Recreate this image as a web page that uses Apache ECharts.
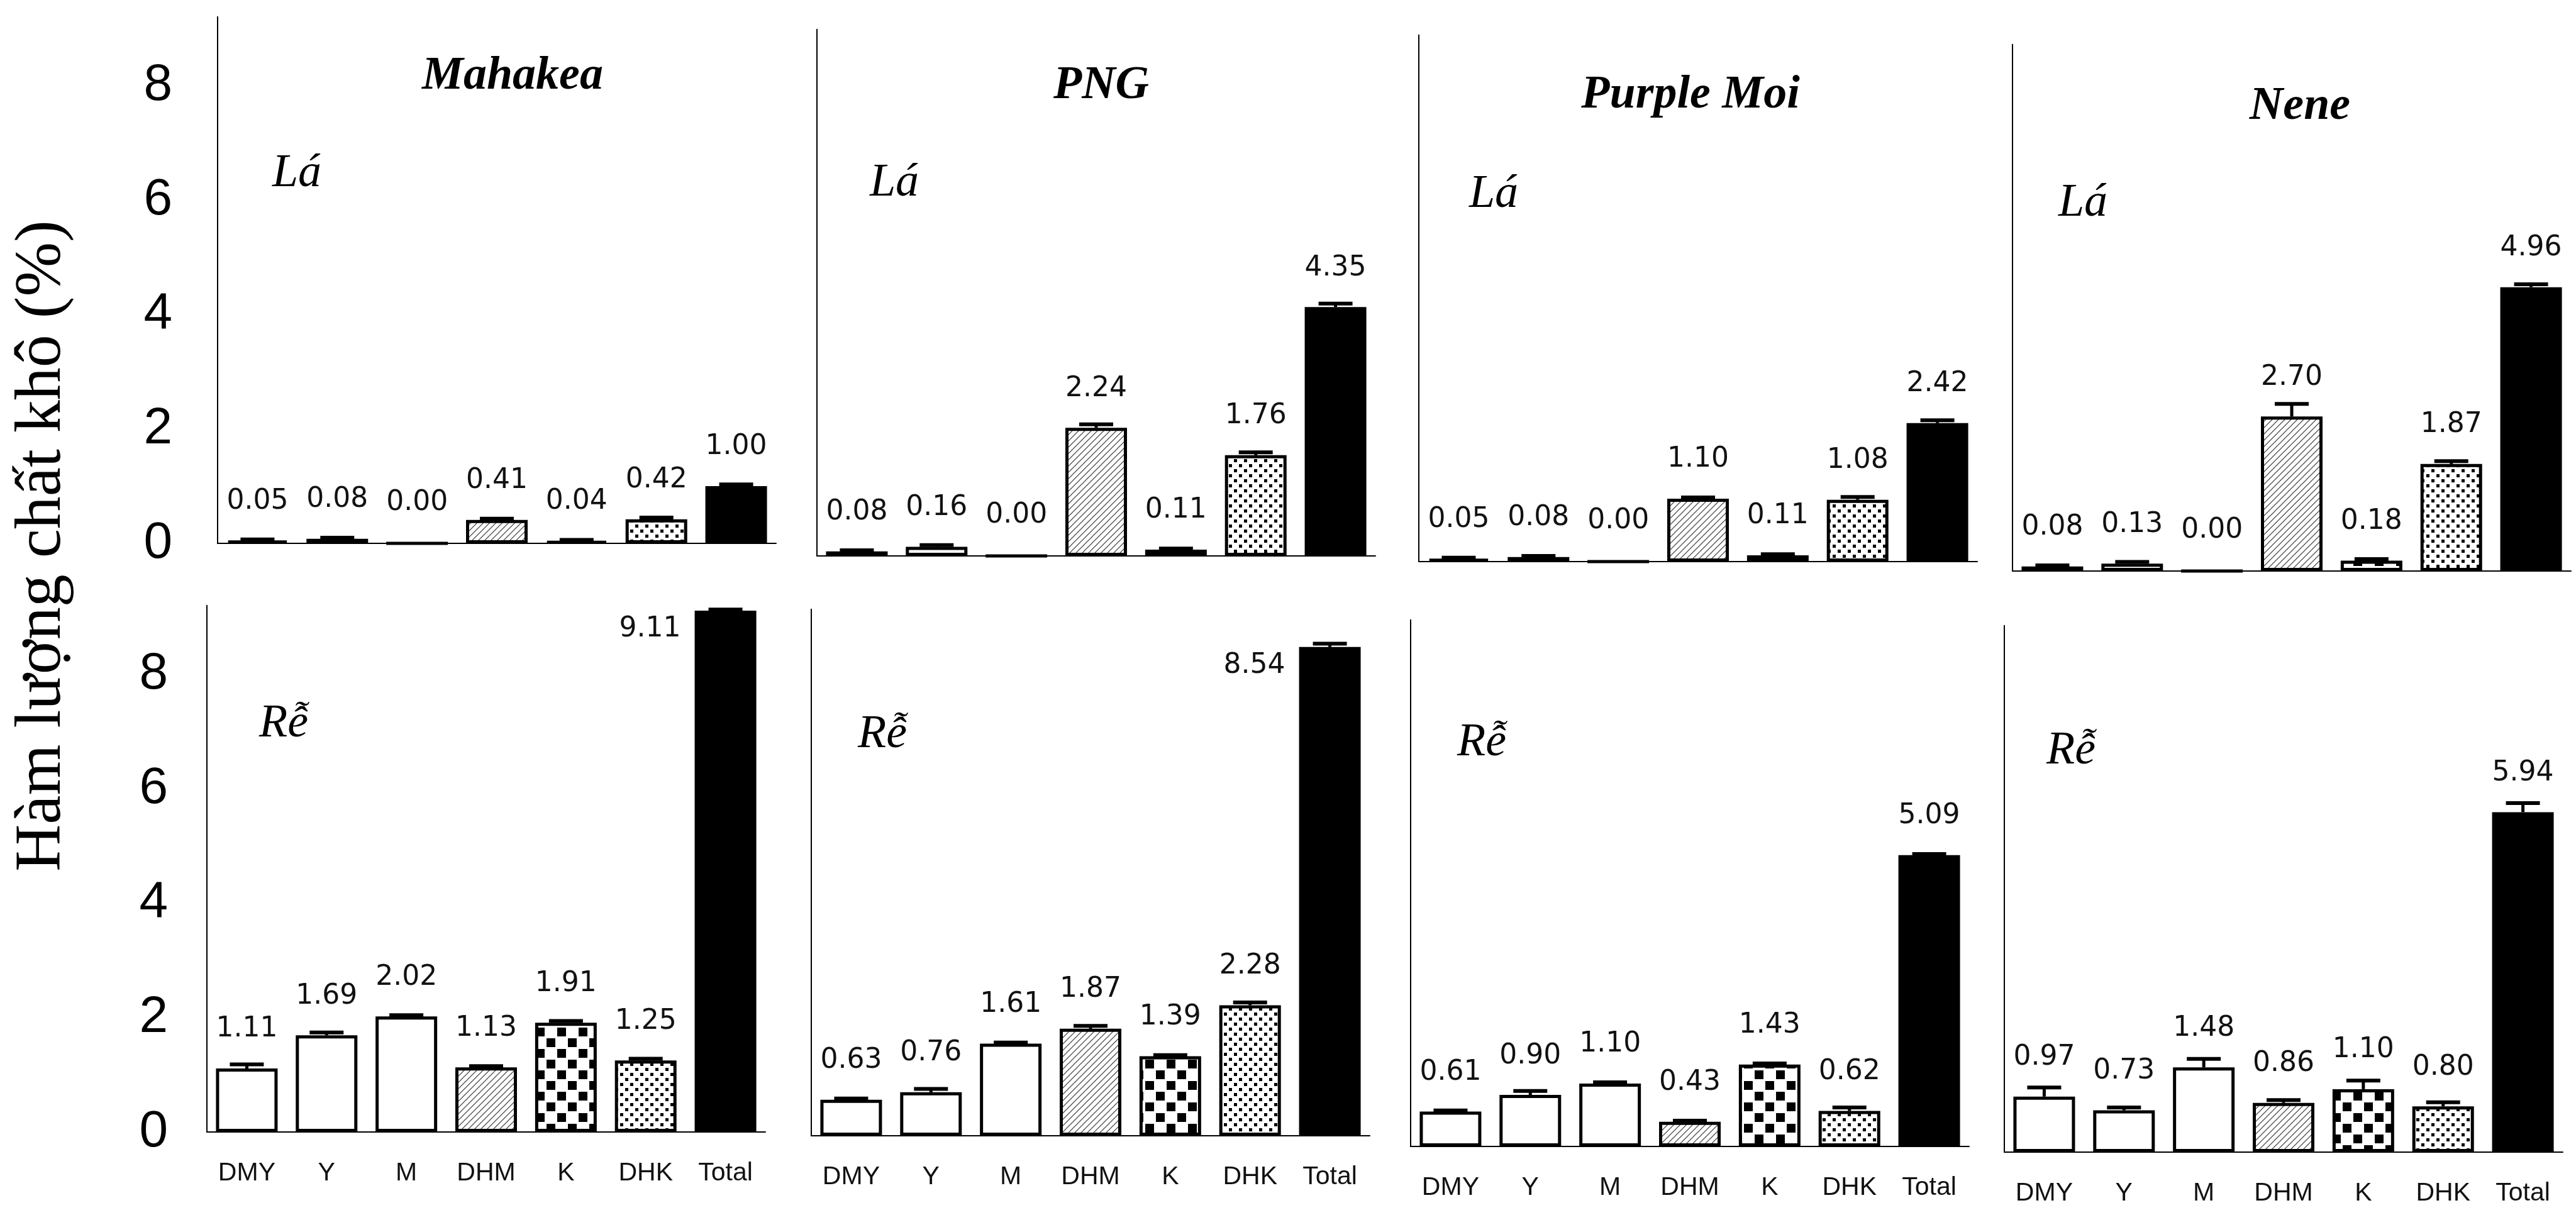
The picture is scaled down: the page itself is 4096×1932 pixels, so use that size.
<!DOCTYPE html>
<html>
<head>
<meta charset="utf-8">
<script src="https://cdn.jsdelivr.net/npm/echarts@6/dist/echarts.min.js"></script>
<style>
  html, body { margin: 0; padding: 0; background: #fff; }
  #chart { width: 4096px; height: 1932px; }
</style>
</head>
<body>
<div id="chart"></div>
<script>
// categories and cultivars
var categories = ["DMY", "Y", "M", "DHM", "K", "DHK", "Total"];
var cultivars = ["Mahakea", "PNG", "Purple Moi", "Nene"];
var yTicks = [0, 2, 4, 6, 8];

// Lá (leaf) values, % dry matter
var laMahakea = [0.05, 0.08, 0.00, 0.41, 0.04, 0.42, 1.00];
var laPNG = [0.08, 0.16, 0.00, 2.24, 0.11, 1.76, 4.35];
var laPurpleMoi = [0.05, 0.08, 0.00, 1.10, 0.11, 1.08, 2.42];
var laNene = [0.08, 0.13, 0.00, 2.70, 0.18, 1.87, 4.96];

// Rễ (root) values
var reMahakea = [1.11, 1.69, 2.02, 1.13, 1.91, 1.25, 9.11];
var rePNG = [0.63, 0.76, 1.61, 1.87, 1.39, 2.28, 8.54];
var rePurpleMoi = [0.61, 0.90, 1.10, 0.43, 1.43, 0.62, 5.09];
var reNene = [0.97, 0.73, 1.48, 0.86, 1.10, 0.80, 5.94];

// error bars
var errLaMahakea = [0.02, 0.02, 0, 0.02, 0.02, 0.03, 0.03];
var errLaPNG = [0.02, 0.03, 0, 0.06, 0.02, 0.05, 0.06];
var errLaPurpleMoi = [0.02, 0.02, 0, 0.02, 0.02, 0.05, 0.05];
var errLaNene = [0.02, 0.03, 0, 0.22, 0.03, 0.05, 0.05];
var errReMahakea = [0.07, 0.05, 0.02, 0.02, 0.03, 0.03, 0.02];
var errRePNG = [0.02, 0.06, 0.02, 0.05, 0.02, 0.05, 0.06];
var errRePurpleMoi = [0.02, 0.07, 0.02, 0.02, 0.02, 0.06, 0.02];
var errReNene = [0.16, 0.05, 0.15, 0.05, 0.15, 0.07, 0.16];

var laRows = [laMahakea, laPNG, laPurpleMoi, laNene];
var reRows = [reMahakea, rePNG, rePurpleMoi, reNene];
var laErrs = [errLaMahakea, errLaPNG, errLaPurpleMoi, errLaNene];
var reErrs = [errReMahakea, errRePNG, errRePurpleMoi, errReNene];

// layout (px)
var topAxisX = [346, 1299, 2256, 3200];
var topBase = [864, 884, 893, 908];
var botAxisX = [329, 1290, 2243, 3187];
var botBase = [1800, 1806, 1823, 1832];
var yMax = 9.2;
var unit = 91;
var gridW = 888;
var gridH = yMax * unit;

// fill patterns
function makeCanvas(w, h) {
  var c = document.createElement("canvas");
  c.width = w; c.height = h;
  var ctx = c.getContext("2d");
  ctx.fillStyle = "#fff";
  ctx.fillRect(0, 0, w, h);
  return c;
}
function hatch() {
  var c = makeCanvas(10, 10), ctx = c.getContext("2d");
  ctx.strokeStyle = "#333";
  ctx.lineWidth = 1.2;
  ctx.beginPath();
  ctx.moveTo(0, 10); ctx.lineTo(10, 0);
  ctx.moveTo(-2, 2); ctx.lineTo(2, -2);
  ctx.moveTo(8, 12); ctx.lineTo(12, 8);
  ctx.stroke();
  return c;
}
function checker() {
  var c = makeCanvas(34, 34), ctx = c.getContext("2d");
  ctx.fillStyle = "#000";
  ctx.fillRect(2, 2, 14, 14);
  ctx.fillRect(19, 19, 14, 14);
  return c;
}
function dots() {
  var c = makeCanvas(16, 16), ctx = c.getContext("2d");
  ctx.fillStyle = "#000";
  ctx.fillRect(2, 2, 5, 5);
  ctx.fillRect(10, 10, 5, 5);
  return c;
}
var hatchFill = { image: hatch(), repeat: "repeat" };
var checkerFill = { image: checker(), repeat: "repeat" };
var dotFill = { image: dots(), repeat: "repeat" };

function barStyle(k) {
  var s = { borderColor: "#000", borderWidth: 5, color: "#fff" };
  if (k === 3) s.color = hatchFill;
  if (k === 4) s.color = checkerFill;
  if (k === 5) s.color = dotFill;
  if (k === 6) s.color = "#000";
  return s;
}

var grids = [], xAxes = [], yAxes = [], series = [], texts = [];

function addPanel(idx, left, base, vals, errs, showX, showY, tickMargin) {
  grids.push({ left: left, top: base - gridH, width: gridW, height: gridH });
  xAxes.push({
    type: "category", gridIndex: idx, data: categories,
    axisLine: { lineStyle: { color: "#000", width: 2 } },
    axisTick: { show: false },
    axisLabel: {
      show: showX, interval: 0, margin: 45, color: "#111",
      fontFamily: "Liberation Sans", fontSize: 41
    }
  });
  yAxes.push({
    type: "value", gridIndex: idx, min: 0, max: yMax, interval: 2,
    splitLine: { show: false },
    axisTick: { show: false },
    axisLine: { show: true, lineStyle: { color: "#000", width: 2 } },
    axisLabel: {
      show: showY, margin: tickMargin, color: "#000",
      fontFamily: "Liberation Sans", fontSize: 82,
      formatter: function (v) { return yTicks.indexOf(v) >= 0 ? String(v) : ""; }
    }
  });
  series.push({
    type: "bar", xAxisIndex: idx, yAxisIndex: idx, barWidth: 98,
    data: vals.map(function (v, k) {
      var item = { value: v, itemStyle: barStyle(k) };
      if (v > 8) {
        item.label = { position: [-22, 30], align: "right", verticalAlign: "middle" };
      }
      return item;
    }),
    label: {
      show: true, position: "top", distance: 40,
      fontFamily: "DejaVu Sans", fontSize: 44, color: "#111",
      formatter: function (p) { return p.value.toFixed(2); }
    },
    silent: true
  });
  series.push({
    type: "custom", xAxisIndex: idx, yAxisIndex: idx, z: 5, silent: true,
    data: vals.map(function (v, k) { return [k, v, errs[k]]; }),
    renderItem: function (params, api) {
      var e = api.value(2);
      if (!(e > 0)) return null;
      var p0 = api.coord([api.value(0), api.value(1)]);
      var p1 = api.coord([api.value(0), api.value(1) + e]);
      return {
        type: "group", children: [
          { type: "line", shape: { x1: p0[0], y1: p0[1], x2: p1[0], y2: p1[1] },
            style: { stroke: "#000", lineWidth: 5 } },
          { type: "line", shape: { x1: p1[0] - 27, y1: p1[1], x2: p1[0] + 27, y2: p1[1] },
            style: { stroke: "#000", lineWidth: 6 } }
        ]
      };
    }
  });
}

for (var i = 0; i < 4; i++) {
  addPanel(i, topAxisX[i], topBase[i], laRows[i], laErrs[i], false, i === 0, 72);
}
for (var j = 0; j < 4; j++) {
  addPanel(4 + j, botAxisX[j], botBase[j], reRows[j], reErrs[j], true, j === 0, 62);
}

// panel titles and organ labels
var titlePos = [[815, 122], [1751, 137], [2688, 152], [3657, 170]];
var laPos = [[472, 277], [1422, 292], [2375, 310], [3312, 324]];
var rePos = [[451, 1152], [1403, 1169], [2356, 1182], [3293, 1195]];
cultivars.forEach(function (name, k) {
  texts.push({
    type: "text", x: titlePos[k][0], y: titlePos[k][1],
    style: { text: name, fontFamily: "Liberation Serif", fontSize: 74, fontWeight: "bold",
      fontStyle: "italic", fill: "#000", textAlign: "center", textVerticalAlign: "middle" }
  });
  texts.push({
    type: "text", x: laPos[k][0], y: laPos[k][1],
    style: { text: "Lá", fontFamily: "Liberation Serif", fontSize: 74, fontStyle: "italic",
      fill: "#000", textAlign: "center", textVerticalAlign: "middle" }
  });
  texts.push({
    type: "text", x: rePos[k][0], y: rePos[k][1],
    style: { text: "Rễ", fontFamily: "Liberation Serif", fontSize: 74, fontStyle: "italic",
      fill: "#000", textAlign: "center", textVerticalAlign: "middle" }
  });
});
texts.push({
  type: "text", x: 68, y: 868, rotation: Math.PI / 2,
  style: { text: "Hàm lượng chất khô (%)", fontFamily: "Liberation Serif", fontSize: 104,
    fill: "#000", textAlign: "center", textVerticalAlign: "middle" }
});

var myChart = echarts.init(document.getElementById("chart"), null, { renderer: "canvas" });
myChart.setOption({
  animation: false,
  backgroundColor: "#fff",
  grid: grids,
  xAxis: xAxes,
  yAxis: yAxes,
  series: series,
  graphic: texts
});
</script>
</body>
</html>
